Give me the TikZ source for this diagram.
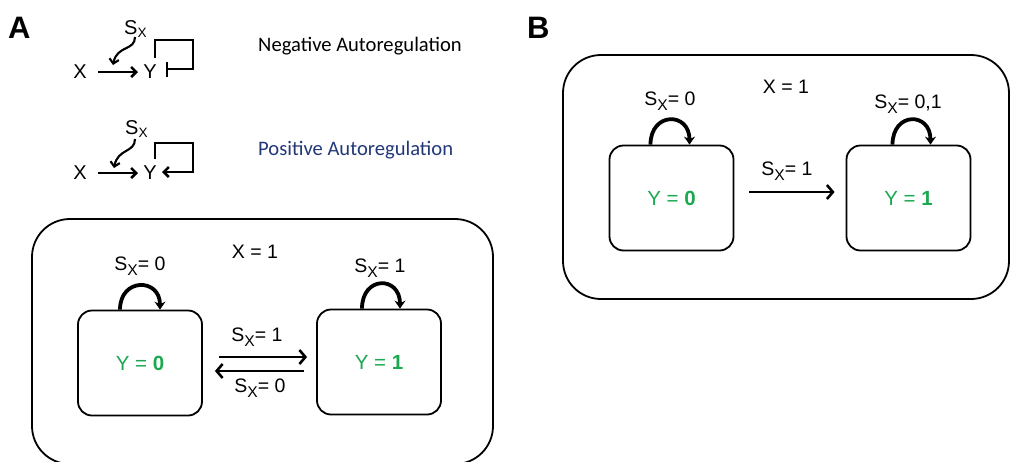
\documentclass[tikz,border=0pt]{standalone}
\usepackage{fontspec}
\setmainfont{Liberation Sans}
\newfontfamily\calibri{Carlito}
\usetikzlibrary{arrows.meta,calc}
\definecolor{stategreen}{RGB}{28,168,80}
\definecolor{posblue}{RGB}{34,56,120}
% S with a lowered subscript X
\newcommand\SX{S\raisebox{-0.45ex}{\scalebox{0.8}{X}}}
\newcommand\SXsmall{S\raisebox{-0.3ex}{\scalebox{0.68}{X}}}
\begin{document}
\begin{tikzpicture}[x=1pt,y=-1pt,
  lbl/.style={font=\fontsize{19.5}{19.5}\selectfont, inner sep=0pt},
  motif/.style={font=\fontsize{20}{20}\selectfont, inner sep=0pt},
  panelbox/.style={draw, line width=1.8pt, rounded corners=38pt, inner sep=0pt},
  statebox/.style={draw, line width=1.8pt, rounded corners=14pt, minimum width=124pt,
    minimum height=105pt, inner sep=0pt, text=stategreen, font=\fontsize{20.5}{20.5}\selectfont},
  loopline/.style={line width=3.8pt, -{Stealth[length=8pt,width=11pt]}},
  transarrow/.style={line width=2.6pt, -{Straight Barb[length=6pt,width=14pt]}},
  smallarrow/.style={line width=2.6pt, -{Straight Barb[length=5pt,width=10pt]}},
  curlyarrow/.style={line width=2.1pt, -{Straight Barb[length=4.5pt,width=9.5pt]}},
  bracket/.style={line width=2.5pt},
  heading/.style={font=\fontsize{31}{31}\selectfont\bfseries, inner sep=0pt, anchor=base west},
  caption/.style={font=\calibri\fontsize{20.6}{20.6}\selectfont, inner sep=0pt, anchor=west}]
\useasboundingbox (0,0) rectangle (1012,461);
\clip (0,0) rectangle (1012,461);

% panel letters
\node[heading] (hA) at (8,38) {A};
\node[heading] (hB) at (527,38) {B};

% ---- negative autoregulation motif ----
\node[motif] (nx) at (80,72) {X};
\node[motif] (ny) at (150,72) {Y};
\node[motif, anchor=base west] (ns) at (124,34) {\SXsmall};
\draw[smallarrow] ($(nx.center)+(18,0)$) -- ($(ny.center)+(-12,0)$);
\draw[curlyarrow] ($(ns.base west)+(11,3)$) .. controls +(0,14) and +(4,-20) .. ($(ny.center)+(-37,-7)$);
\coordinate (nb0) at ($(ny.center)+(5,-14)$);
\coordinate (nb1) at ($(ny.center)+(17,-3)$);
\draw[bracket] (nb0) -- ++(0,-18) -- ++(38,0) -- ++(0,29) -- (nb1);
\draw[bracket] ($(nb1)+(0,-7)$) -- ($(nb1)+(0,8)$);
\node[caption] (neg) at (258,46) {Negative Autoregulation};

% ---- positive autoregulation motif ----
\node[motif] (px) at (80,173) {X};
\node[motif] (py) at (150,173) {Y};
\node[motif, anchor=base west] (ps) at (125,134) {\SXsmall};
\draw[smallarrow] ($(px.center)+(18,0)$) -- ($(py.center)+(-12,0)$);
\draw[curlyarrow] ($(ps.base west)+(10,5)$) .. controls +(0,14) and +(4,-20) .. ($(py.center)+(-36,-5)$);
\coordinate (pb0) at ($(py.center)+(5,-14)$);
\coordinate (pb1) at ($(py.center)+(12,-1)$);
\draw[bracket, -{Straight Barb[length=5pt,width=10pt]}] (pb0) -- ++(0,-16) -- ++(38,0) -- ++(0,29) -- (pb1);
\node[caption, text=posblue] (pos) at (258,150) {Positive Autoregulation};

% ---- panel A: bistable switch ----
\node[panelbox, minimum width=461pt, minimum height=245pt] (pa) at (262.5,341.5) {};
\node[lbl] (ax) at (255,252) {X = 1};
\node[statebox] (a0) at (140,363) {Y = \textbf{0}};
\node[statebox] (a1) at (379,362) {Y = \textbf{1}};
\draw[loopline] ($(a0.north)+(-20,0)$) .. controls +(0,-32) and +(0,-32) .. ($(a0.north)+(20,0)$);
\draw[loopline] ($(a1.north)+(-17,0)$) .. controls +(0,-33) and +(0,-33) .. ($(a1.north)+(21,0)$);
\node[lbl] (al0) at (140,266) {\SX= 0};
\node[lbl] (al1) at (380,268) {\SX= 1};
\draw[transarrow] ($(a0.east)+(16,-6)$) -- ($(a1.west)+(-9,-5)$);
\draw[transarrow] ($(a1.west)+(-12,9)$) -- ($(a0.east)+(12,8)$);
\node[lbl] (at1) at (257,337) {\SX= 1};
\node[lbl] (at0) at (260,388) {\SX= 0};

% ---- panel B: irreversible switch ----
\node[panelbox, minimum width=446pt, minimum height=244pt] (pb) at (786,177) {};
\node[lbl] (bx) at (786,87) {X = 1};
\node[statebox] (b0) at (671.5,198) {Y = \textbf{0}};
\node[statebox] (b1) at (908.5,198) {Y = \textbf{1}};
\draw[loopline] ($(b0.north)+(-21,0)$) .. controls +(0,-33) and +(0,-33) .. ($(b0.north)+(18,0)$);
\draw[loopline] ($(b1.north)+(-16,0)$) .. controls +(0,-33) and +(0,-33) .. ($(b1.north)+(22,0)$);
\node[lbl] (bl0) at (670,101) {\SX= 0};
\node[lbl] (bl1) at (908,104) {\SX= 0,1};
\draw[transarrow] ($(b0.east)+(15,-6)$) -- ($(b1.west)+(-11,-6)$);
\node[lbl] (bt1) at (787,171) {\SX= 1};
\end{tikzpicture}
\end{document}
